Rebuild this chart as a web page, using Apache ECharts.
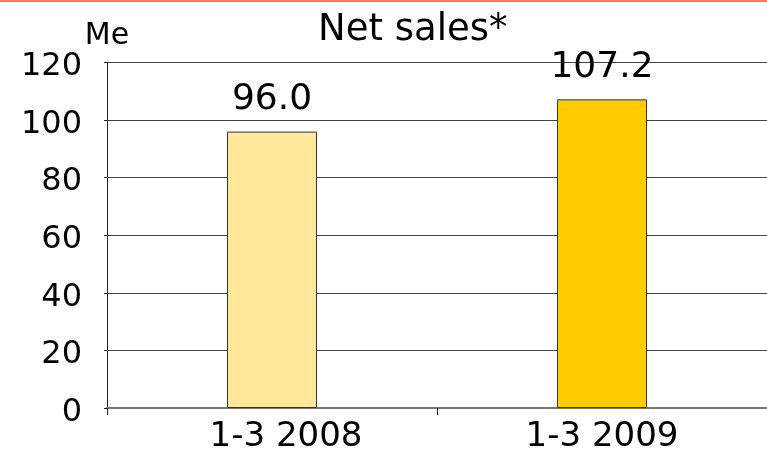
<!DOCTYPE html>
<html>
<head>
<meta charset="utf-8">
<script src="https://cdn.jsdelivr.net/npm/echarts@6/dist/echarts.min.js"></script>
<style>
  html, body { margin: 0; padding: 0; background: #fff; }
  #chart { width: 767px; height: 454px; }
</style>
</head>
<body>
<div id="chart"></div>
<script>
  // data
  var periods = ['1-3 2008', '1-3 2009'];
  var netSales = [96.0, 107.2];
  var barColors = ['#FFE89B', '#FFCC00'];
  var yTicks = [0, 20, 40, 60, 80, 100, 120];

  var font = 'DejaVu Sans';
  var myChart = echarts.init(document.getElementById('chart'));

  var option = {
    animation: false,
    title: {
      text: 'Net sales*',
      left: 313,
      top: 7,
      textStyle: { fontFamily: font, fontSize: 37, fontWeight: 'normal', color: '#000' }
    },
    graphic: [
      { type: 'rect', left: 0, top: 0, shape: { width: 767, height: 2 }, style: { fill: '#F47A6A' } }
    ],
    grid: { left: 107, right: -3, top: 62.5, bottom: 44 },
    xAxis: {
      type: 'category',
      data: [
        // first label sits a bit right of its bar in the original
        { value: periods[0], textStyle: { padding: [0, 0, 0, 28] } },
        periods[1]
      ],
      axisLine: { lineStyle: { color: '#777', width: 2 } },
      axisTick: { show: true, length: 7, lineStyle: { color: '#222', width: 1 } },
      axisLabel: { fontFamily: font, fontSize: 34, color: '#000', margin: 12 }
    },
    yAxis: {
      type: 'value',
      min: yTicks[0],
      max: yTicks[yTicks.length - 1],
      interval: 20,
      name: 'Me',
      nameGap: 25,
      nameTextStyle: { fontFamily: font, fontSize: 30, color: '#000', verticalAlign: 'middle' },
      axisLine: { show: true, lineStyle: { color: '#222', width: 1 } },
      axisTick: { show: true, length: 3, lineStyle: { color: '#222' } },
      splitLine: { lineStyle: { color: '#444', width: 1 } },
      axisLabel: { fontFamily: font, fontSize: 32, color: '#000', margin: 25, verticalAlign: 'top', lineHeight: 9 }
    },
    series: [{
      type: 'bar',
      barWidth: 90,
      data: netSales.map(function (v, i) {
        return { value: v, itemStyle: { color: barColors[i] } };
      }),
      itemStyle: { borderColor: '#333', borderWidth: 1 },
      label: {
        show: true,
        position: 'top',
        distance: 14,
        fontFamily: font,
        fontSize: 36,
        color: '#000',
        formatter: function (p) { return p.value.toFixed(1); }
      }
    }]
  };

  myChart.setOption(option);
</script>
</body>
</html>
